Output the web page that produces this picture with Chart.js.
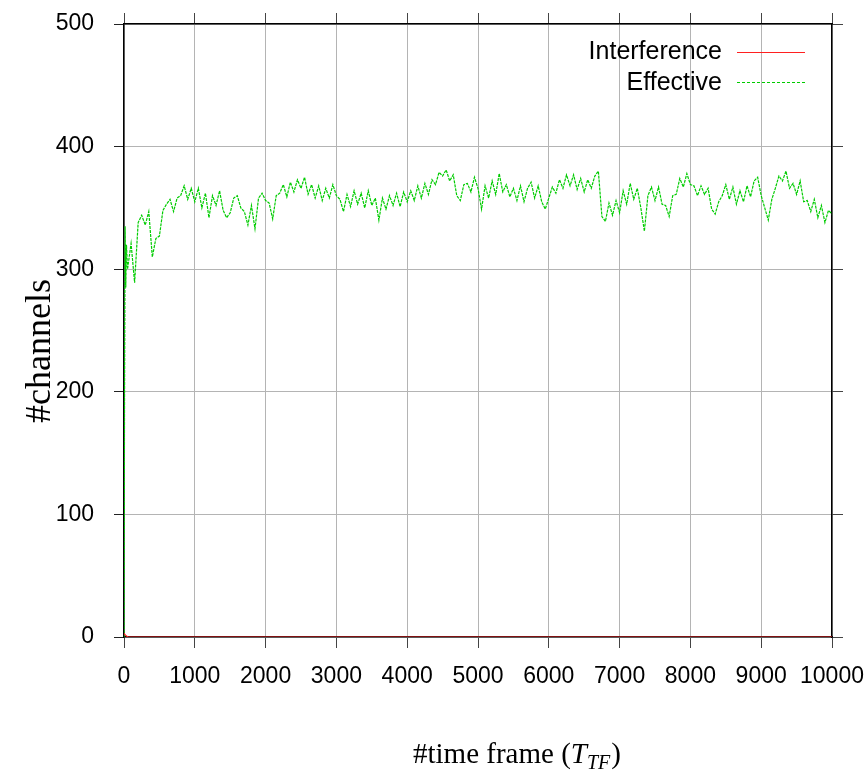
<!DOCTYPE html>
<html>
<head>
<meta charset="utf-8">
<script src="https://cdn.jsdelivr.net/npm/chart.js@4/dist/chart.umd.min.js"></script>
<style>
  html, body { margin: 0; padding: 0; background: #fff; }
  #wrap { width: 865px; height: 778px; }
</style>
</head>
<body>
<div id="wrap"><canvas id="chart" width="865" height="778"></canvas></div>
<script>
// start-up (first few frames)
const startTimes = [0, 8, 16, 25, 35];
const startEffective = [0, 200, 335, 285, 320];

// effective channels, one value every 50 frames from 50 to 10000
const sampleStep = 50;
const effective = [
  300, 321, 289, 338, 344, 336, 347, 310, 325, 327, 348, 353, 357, 347, 358, 360, 368, 357, 366, 355,
  366, 350, 362, 342, 360, 352, 364, 348, 342, 346, 358, 360, 350, 347, 336, 352, 333, 358, 362, 356,
  354, 341, 360, 362, 369, 359, 371, 363, 373, 366, 375, 361, 369, 358, 368, 356, 366, 358, 369, 360,
  357, 347, 361, 351, 364, 353, 362, 350, 364, 352, 358, 340, 358, 349, 360, 352, 362, 351, 363, 355,
  364, 356, 368, 358, 370, 361, 373, 369, 379, 376, 381, 372, 377, 360, 356, 369, 370, 363, 375, 366,
  349, 368, 358, 372, 361, 378, 363, 369, 359, 366, 356, 368, 355, 366, 371, 358, 368, 355, 349, 358,
  367, 362, 373, 366, 377, 368, 377, 365, 374, 363, 373, 366, 376, 380, 343, 339, 354, 344, 356, 346,
  364, 353, 370, 357, 366, 350, 331, 360, 367, 356, 367, 353, 352, 343, 360, 361, 374, 367, 378, 369,
  368, 360, 368, 361, 366, 349, 345, 355, 360, 369, 357, 367, 353, 364, 355, 368, 359, 372, 375, 360,
  350, 340, 357, 366, 376, 372, 380, 366, 370, 361, 372, 355, 356, 347, 357, 342, 352, 338, 348, 345
];

// interference stays at zero after a tiny blip at the start
const interferenceTimes = [0, 30, 60, 10000];
const interference = [3, 1, 0, 0];

const xTicks = [0, 1000, 2000, 3000, 4000, 5000, 6000, 7000, 8000, 9000, 10000];
const yTicks = [0, 100, 200, 300, 400, 500];

const effectivePoints = startTimes.map((t, i) => ({ x: t, y: startEffective[i] }));
effective.forEach((v, i) => effectivePoints.push({ x: (i + 1) * sampleStep, y: v }));
const interferencePoints = interferenceTimes.map((t, i) => ({ x: t, y: interference[i] }));

const RED = '#ff2020';
const GREEN = '#00cc00';
const GRID = '#b4b4b4';
const sans = "'Liberation Sans', Arial, sans-serif";
const serif = "'Liberation Serif', 'Times New Roman', serif";

// fixed box sizes; drop the label overhang padding so the plot box lands where gnuplot put it
function fixSize(w, h) {
  return (s) => {
    if (w !== null) s.width = w;
    if (h !== null) s.height = h;
    s.paddingLeft = s.paddingRight = s.paddingTop = s.paddingBottom = 0;
  };
}

// legend + axis titles drawn by hand
const decorations = {
  id: 'decorations',
  afterDraw(chart) {
    const c = chart.ctx;
    c.save();
    c.fillStyle = '#000';
    c.font = '25px ' + sans;
    c.textAlign = 'right';
    c.textBaseline = 'middle';
    c.fillText('Interference', 722, 52);
    c.fillText('Effective', 722, 83);

    c.lineWidth = 1;
    c.strokeStyle = RED;
    c.beginPath(); c.moveTo(737, 52.5); c.lineTo(805, 52.5); c.stroke();
    c.strokeStyle = GREEN;
    c.setLineDash([3, 2]);
    c.beginPath(); c.moveTo(737, 82.5); c.lineTo(805, 82.5); c.stroke();
    c.setLineDash([]);

    // y title
    c.save();
    c.translate(50, 351);
    c.rotate(-Math.PI / 2);
    c.textAlign = 'center';
    c.textBaseline = 'alphabetic';
    c.font = '36px ' + serif;
    c.fillText('#channels', 0, 0);
    c.restore();

    // x title with italic T and subscript TF
    c.textAlign = 'left';
    c.textBaseline = 'alphabetic';
    let x = 413;
    const base = 763;
    c.font = '29px ' + serif;
    c.fillText('#time frame (', x, base);
    x += c.measureText('#time frame (').width;
    c.font = 'italic 29px ' + serif;
    c.fillText('T', x, base);
    x += c.measureText('T').width;
    c.font = 'italic 20px ' + serif;
    c.fillText('TF', x, base + 6);
    x += c.measureText('TF').width + 1;
    c.font = '29px ' + serif;
    c.fillText(')', x, base);
    c.restore();
  }
};

const ctx = document.getElementById('chart').getContext('2d');

new Chart(ctx, {
  type: 'line',
  data: {
    datasets: [
      {
        label: 'Interference',
        data: interferencePoints,
        borderColor: RED,
        borderWidth: 1.2,
        pointRadius: 0,
        tension: 0,
        order: 1
      },
      {
        label: 'Effective',
        data: effectivePoints,
        borderColor: GREEN,
        borderWidth: 1.2,
        borderDash: [3, 1],
        pointRadius: 0,
        tension: 0,
        order: 2
      }
    ]
  },
  options: {
    responsive: false,
    animation: false,
    layout: { padding: 0 },
    plugins: {
      legend: { display: false },
      tooltip: { enabled: false }
    },
    scales: {
      x: {
        type: 'linear',
        position: 'bottom',
        min: 0,
        max: 10000,
        afterBuildTicks: (s) => { s.ticks = xTicks.map(v => ({ value: v })); },
        afterFit: fixSize(null, 141),
        grid: { color: GRID, tickColor: '#444', tickLength: 11, lineWidth: 1 },
        border: { color: '#000', width: 1.5 },
        ticks: {
          autoSkip: false,
          maxRotation: 0,
          padding: 15,
          color: '#000',
          font: { family: sans, size: 23 },
          callback: (v) => String(v)
        }
      },
      x2: {
        type: 'linear',
        position: 'top',
        min: 0,
        max: 10000,
        afterBuildTicks: (s) => { s.ticks = xTicks.map(v => ({ value: v })); },
        afterFit: fixSize(null, 24),
        grid: { drawOnChartArea: false, tickColor: '#444', tickLength: 11 },
        border: { color: '#000', width: 1.5 },
        ticks: { display: false }
      },
      y: {
        type: 'linear',
        position: 'left',
        min: 0,
        max: 500,
        afterBuildTicks: (s) => { s.ticks = yTicks.map(v => ({ value: v })); },
        afterFit: fixSize(124, null),
        grid: { color: GRID, tickColor: '#222', tickLength: 10, lineWidth: 1 },
        border: { color: '#000', width: 1.5 },
        ticks: {
          padding: 20,
          color: '#000',
          font: { family: sans, size: 23 },
          callback: (v) => String(v)
        }
      },
      y2: {
        type: 'linear',
        position: 'right',
        min: 0,
        max: 500,
        afterBuildTicks: (s) => { s.ticks = yTicks.map(v => ({ value: v })); },
        afterFit: fixSize(33, null),
        grid: { drawOnChartArea: false, tickColor: '#444', tickLength: 11 },
        border: { color: '#000', width: 1.5 },
        ticks: { display: false }
      }
    }
  },
  plugins: [decorations]
});
</script>
</body>
</html>
